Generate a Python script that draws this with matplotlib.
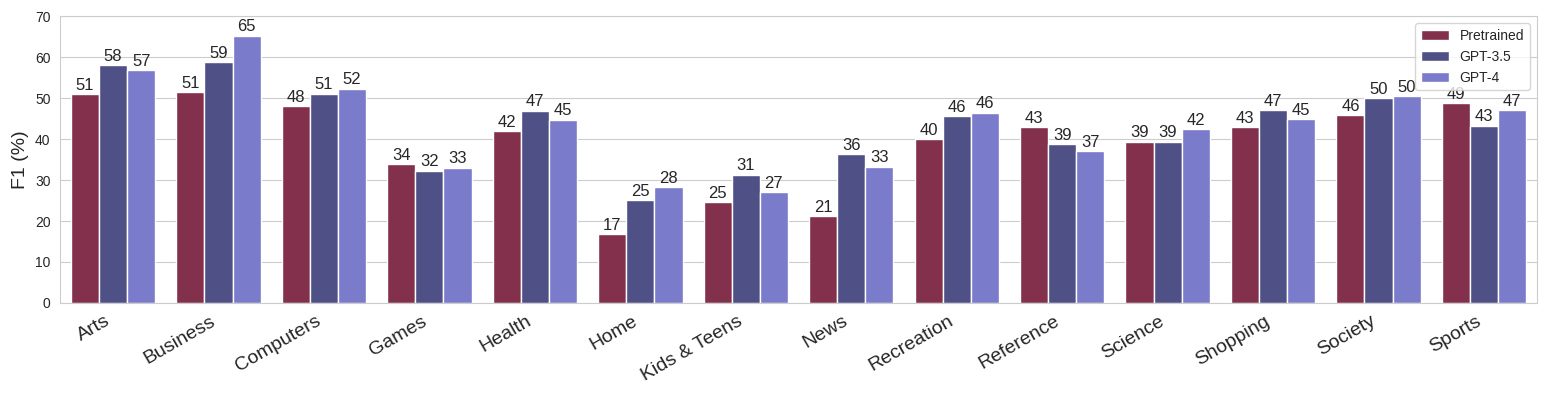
import matplotlib
matplotlib.use("Agg")
import matplotlib.pyplot as plt
import numpy as np
import seaborn as sns

categories = ["Arts", "Business", "Computers", "Games", "Health", "Home",
              "Kids & Teens", "News", "Recreation", "Reference", "Science",
              "Shopping", "Society", "Sports"]
pretrained = [51.0, 51.4, 48.0, 33.9, 41.9, 16.8, 24.6, 21.2, 40.0, 42.9, 39.4, 42.9, 45.9, 48.8]
gpt35 = [58.1, 58.8, 51.1, 32.3, 46.9, 25.1, 31.3, 36.3, 45.6, 38.7, 39.4, 47.0, 50.0, 43.3]
gpt4 = [56.8, 65.2, 52.3, 33.0, 44.7, 28.3, 27.0, 33.3, 46.4, 37.0, 42.4, 44.8, 50.4, 47.0]

series = {"Pretrained": pretrained, "GPT-3.5": gpt35, "GPT-4": gpt4}
colors = ["#82304C", "#4F5086", "#7A7BCB"]

sns.set_style("whitegrid")
plt.rcParams["font.family"] = ["Arial", "Liberation Sans", "DejaVu Sans"]

fig, ax = plt.subplots(figsize=(15.46, 3.95), dpi=100)
x = np.arange(len(categories))
width = 0.8 / 3
for i, (name, vals) in enumerate(series.items()):
    bars = ax.bar(x + (i - 1) * width, vals, width, color=colors[i],
                  edgecolor="white", linewidth=1, label=name)
    ax.bar_label(bars, fmt="%.0f", fontsize=12, padding=1)

ax.set_xlim(-0.5, len(categories) - 0.5)
ax.set_ylim(0, 70)
ax.set_yticks(range(0, 71, 10))
ax.tick_params(axis="y", labelsize=10)
ax.set_xticks(x)
ax.set_xticklabels(categories, rotation=30, ha="right", fontsize=14)
ax.set_ylabel("F1 (%)", fontsize=14)
ax.grid(axis="x", visible=False)
ax.legend(loc="upper right", fontsize=10)

plt.subplots_adjust(left=0.039, right=0.994, top=0.959, bottom=0.233)
plt.savefig("out.png", dpi=100)
plt.close(fig)
